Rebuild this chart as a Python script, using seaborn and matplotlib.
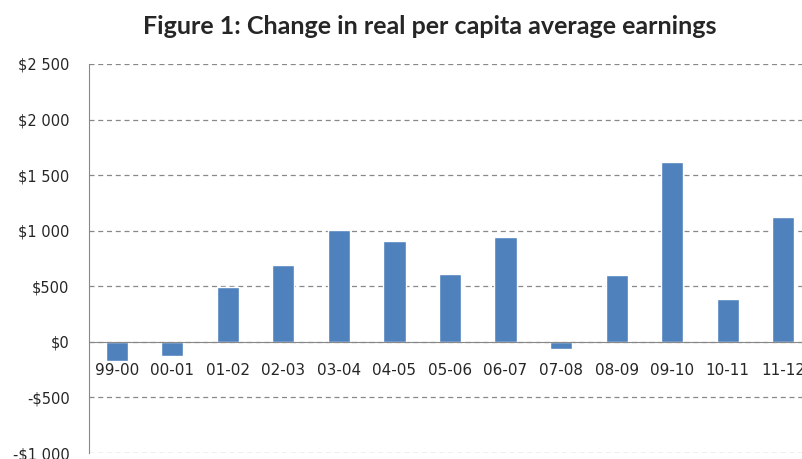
import pandas as pd
import seaborn as sns
import matplotlib.pyplot as plt

# Change in real per capita average earnings, by financial year
periods = ['99-00', '00-01', '01-02', '02-03', '03-04', '04-05', '05-06',
           '06-07', '07-08', '08-09', '09-10', '10-11', '11-12']
change = [-170, -130, 490, 690, 1010, 910, 610, 940, -60, 600, 1620, 390, 1120]

yticks = [-1000, -500, 0, 500, 1000, 1500, 2000, 2500]
ytick_labels = ['-$1 000', '-$500', '$0', '$500', '$1 000', '$1 500', '$2 000', '$2 500']

data = pd.DataFrame({'period': periods, 'change': change})

sns.set_style('white')
plt.rcParams['font.family'] = ['DejaVu Sans']

fig = plt.figure(figsize=(8.03, 4.59), dpi=100)
ax = fig.add_axes([89 / 803, 6 / 459, 722 / 803, 389 / 459])

sns.barplot(data=data, x='period', y='change', color='#4F81BD',
            width=0.4, saturation=1, ax=ax, zorder=3)

ax.set_ylim(-1000, 2500)
ax.set_yticks(yticks)
ax.set_yticklabels(ytick_labels, fontsize=10.5)
ax.set_xlim(-0.5, len(periods) - 0.5)
ax.set_xlabel('')
ax.set_ylabel('')

ax.yaxis.grid(True, linestyle=(0, (4, 3)), color='#888888', linewidth=0.9)
ax.set_axisbelow(True)

ax.spines['top'].set_visible(False)
ax.spines['right'].set_visible(False)
ax.spines['left'].set_color('#888888')
ax.spines['bottom'].set_color('#888888')
ax.spines['bottom'].set_position(('data', 0))
ax.spines['bottom'].set_zorder(4)

ax.tick_params(axis='x', length=0, pad=15.5, labelsize=11)
ax.tick_params(axis='y', length=0, pad=14)

fig.suptitle('Figure 1: Change in real per capita average earnings',
             x=430 / 803, y=1 - 27 / 459, va='center',
             fontsize=18, weight='bold', family=['Lato', 'DejaVu Sans'])

plt.savefig('out.png', dpi=100)
